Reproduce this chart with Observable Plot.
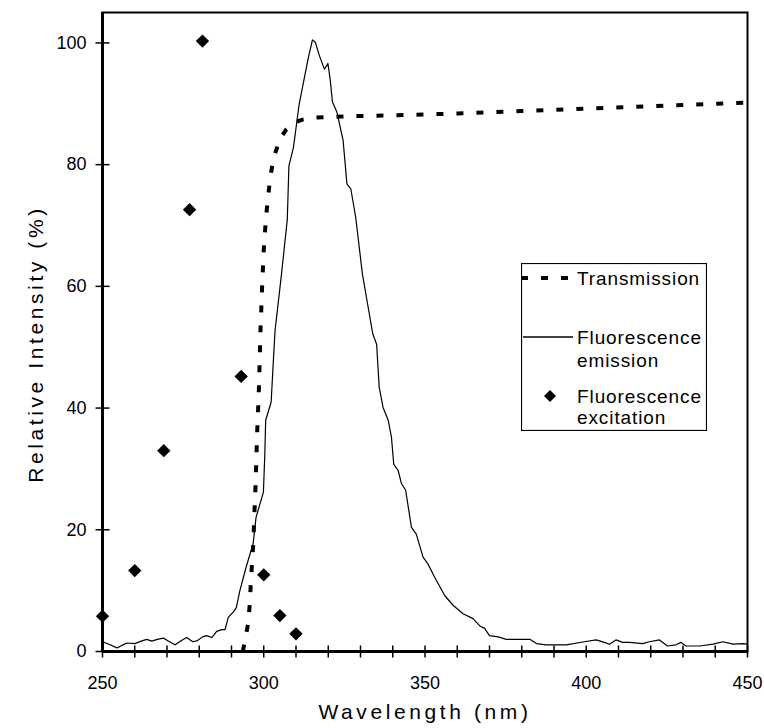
<!DOCTYPE html>
<html>
<head>
<meta charset="utf-8">
<script src="https://cdn.jsdelivr.net/npm/d3@7"></script>
<script src="https://cdn.jsdelivr.net/npm/@observablehq/plot@0.6"></script>
<style>
  body { margin: 0; background: #fff; }
  #chart { position: relative; width: 764px; height: 728px; font-family: "Liberation Sans", Arial, sans-serif; }
  #chart svg text { font-family: "Liberation Sans", Arial, sans-serif; }
  text[aria-label="xlabel"], text[aria-label="ylabel"] { letter-spacing: 3.6px; }
</style>
</head>
<body>
<div id="chart"></div>
<script>
// ---- data ----
const emissionX = [
  250,252,254.5,256,257.6,260,262,263.7,265.3,267,
  268.9,270.5,272.5,274.5,276.1,278,279.5,281,282.3,283.9,
  285.4,287,288,289,290.6,291.5,292.6,294.5,296.7,297.6,
  299.9,300.3,300.6,302.3,302.8,303.5,305.5,307.3,307.8,309.2,
  311,312.5,313.8,315.1,316,317.2,318.8,319.9,320.6,321.3,
  322.7,324.6,325.8,327,328.5,330.6,332.2,333.8,335,335.8,
  337,338.6,339.6,340.3,341.7,342.7,344,345.8,347.3,349.4,
  350.9,353,356.1,358.7,361.8,364.9,367,368.5,370,372.7,
  375.2,382.5,384.6,387.6,393.8,399.4,403.1,405.6,407.2,409.2,
  411.3,413.4,417.5,419.6,422.7,425.2,427.8,429.4,430.9,435.2,
  439.3,442.4,445.5,448.6,450
];
const emissionY = [
  1.6,1.2,0.6,1.0,1.4,1.3,1.7,2.0,1.7,2.0,
  2.2,1.7,1.1,1.8,2.3,1.6,1.8,2.4,2.6,2.3,
  3.3,3.6,3.6,5.6,6.5,7.2,10,13.8,17.7,22,
  26.2,32,38,41,46,52.7,62,71,79.8,82.8,
  90,94,97.5,100.5,100.1,98,95.7,96.6,94,90.3,
  88.6,84,76.8,76,71.4,62,57.1,52.2,50.5,43.4,
  40.1,38,35.2,30.8,29.7,27.6,26.5,20.4,19.3,15.5,
  14.4,12.2,9.2,7.6,6.2,5.4,4.2,3.8,2.6,2.4,
  2.0,2.0,1.3,1.1,1.1,1.6,1.9,1.5,1.2,1.9,
  1.5,1.5,1.3,1.6,1.9,0.9,1.1,1.5,0.9,0.9,
  1.2,1.6,1.2,1.3,1.2
];
const transmissionX = [293.5,294,295.2,295.7,296,296.4,296.8,297,297.3,297.5,297.7,297.9,298.1,298.4,298.7,299,299.5,300,300.7,301.3,302,303,305,307,309,312,315,320,330,340,360,380,400,420,450];
const transmissionY = [0,1.3,4.7,8.1,11.4,14.7,18,21.5,25,28,31.5,35,38,41.5,47,53,60,66,71.3,74.5,77.8,81,84.2,85.8,86.8,87.4,87.7,87.8,88,88.1,88.4,88.8,89.2,89.6,90.2];
const excitationX = [250,260,269,277,281,293,300,305,310];
const excitationY = [5.8,13.3,33,72.6,100.3,45.2,12.6,5.9,2.9];

const xMajorTicks = [250,300,350,400,450];
const xMinorTicks = [250,260,270,280,290,300,310,320,330,340,350,360,370,380,390,400,410,420,430,440,450];
const yTicks = [0,20,40,60,80,100];
const xLabel = "Wavelength (nm)";
const yLabel = "Relative Intensity (%)";
const legendLabels = ["Transmission", ["Fluorescence","emission"], ["Fluorescence","excitation"]];

// ---- tables ----
const emission = emissionX.map((x, i) => ({x, y: emissionY[i]}));
const transmission = transmissionX.map((x, i) => ({x, y: transmissionY[i]}));
const excitation = excitationX.map((x, i) => ({x, y: excitationY[i]}));

// tick-mark symbols crossing the axis lines
const vTick = {draw(ctx) { ctx.moveTo(0, -6); ctx.lineTo(0, 6); }};
const hTick = {draw(ctx) { ctx.moveTo(-7, 0); ctx.lineTo(7, 0); }};

const chart = Plot.plot({
  width: 764,
  height: 728,
  marginLeft: 102,
  marginRight: 17,
  marginTop: 12,
  marginBottom: 77,
  x: {domain: [250, 450]},
  y: {domain: [0, 105]},
  style: {fontFamily: "Liberation Sans, Arial, sans-serif", fontSize: "18px", color: "#000", background: "#fff", overflow: "visible"},
  marks: [
    Plot.line(transmission, {x: "x", y: "y", stroke: "#000", strokeWidth: 4, strokeDasharray: "7,13", strokeLinecap: "butt"}),
    Plot.line(emission, {x: "x", y: "y", stroke: "#000", strokeWidth: 1.2}),
    Plot.dot(excitation, {x: "x", y: "y", symbol: "diamond2", r: 6, fill: "#000", stroke: "none"}),
    Plot.frame({stroke: "#000", strokeWidth: 2}),
    Plot.ruleY([0], {stroke: "#000", strokeWidth: 3}),
    Plot.ruleX([250], {stroke: "#000", strokeWidth: 3}),
    Plot.dot(xMinorTicks, {x: d => d, y: d => 0, symbol: vTick, stroke: "#000", strokeWidth: 1.5}),
    Plot.dot(yTicks, {x: d => 250, y: d => d, symbol: hTick, stroke: "#000", strokeWidth: 1.5}),
    Plot.axisX(xMajorTicks, {tickSize: 0, tickPadding: 25, label: null, fontSize: 18}),
    Plot.axisY(yTicks, {tickSize: 0, tickPadding: 16, label: null, fontSize: 18}),
    Plot.text([xLabel], {text: d => d, frameAnchor: "bottom", lineAnchor: "middle", textAnchor: "middle", dy: 61, fontSize: 21, ariaLabel: d => "xlabel"}),
    Plot.text([yLabel], {text: d => d, frameAnchor: "left", lineAnchor: "middle", textAnchor: "middle", rotate: -90, dx: -66, dy: 12, fontSize: 21, ariaLabel: d => "ylabel"})
  ]
});

const root = document.getElementById("chart");
root.appendChild(chart);

// ---- legend (inside the plot area, as in the reference) ----
const ns = "http://www.w3.org/2000/svg";
const lg = document.createElementNS(ns, "svg");
lg.setAttribute("width", 186);
lg.setAttribute("height", 168);
lg.style.position = "absolute";
lg.style.left = "521px";
lg.style.top = "263px";
function el(tag, attrs, parent) {
  const e = document.createElementNS(ns, tag);
  for (const k in attrs) e.setAttribute(k, attrs[k]);
  (parent || lg).appendChild(e);
  return e;
}
el("rect", {x: 0.5, y: 0.5, width: 185, height: 167, fill: "#fff", stroke: "#000", "stroke-width": 1.2});
el("line", {x1: 0, x2: 48, y1: 15, y2: 15, stroke: "#000", "stroke-width": 4, "stroke-dasharray": "7,13"});
el("line", {x1: 2, x2: 52, y1: 74, y2: 74, stroke: "#000", "stroke-width": 1.3});
el("path", {d: "M29,127 L35,133 L29,139 L23,133 Z", fill: "#000"});
const textStyle = {"font-family": "Liberation Sans, Arial, sans-serif", "font-size": 19, fill: "#000", "dominant-baseline": "central", "letter-spacing": "0.9px"};
function txt(s, x, y) { const t = el("text", Object.assign({x, y}, textStyle)); t.textContent = s; }
txt(legendLabels[0], 56, 15);
txt(legendLabels[1][0], 56, 74);
txt(legendLabels[1][1], 56, 97);
txt(legendLabels[2][0], 56, 133);
txt(legendLabels[2][1], 56, 154);
root.appendChild(lg);
</script>
</body>
</html>
